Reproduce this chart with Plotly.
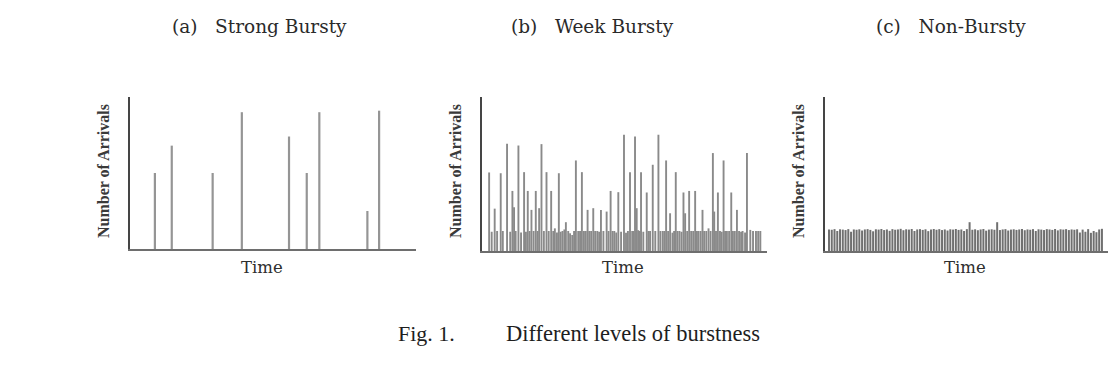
import plotly.graph_objects as go

W, H = 1111, 388

# ---- data ----
a_times = [8.7, 14.6, 28.9, 39.1, 55.6, 61.8, 66.2, 83.0, 87.1]
a_counts = [5.0, 6.8, 5.0, 9.0, 7.4, 5.0, 9.0, 2.5, 9.1]

b_times = [2.5, 3.4, 4.45, 5.3, 6.57, 7.3, 8.79, 9.9, 10.67, 11.25, 11.8, 12.78, 13.7, 14.77, 15.4,
           16.06, 16.7, 17.35, 18.1, 18.87, 19.5, 20.05, 20.87, 21.7, 22.63, 23.4, 24.27, 25.0, 25.56,
           26.3, 26.96, 27.6, 28.25, 28.9, 29.43, 30.25, 30.9, 31.65, 32.3, 32.94, 33.76, 34.4, 35.05,
           35.76, 36.4, 37.05, 37.63, 38.3, 39.04, 39.7, 40.45, 41.1, 41.74, 42.6, 43.73, 44.4, 45.13,
           45.8, 46.42, 47.1, 47.83, 48.8, 49.82, 50.53, 51.2, 51.93, 52.7, 53.1, 53.69, 54.28, 54.8,
           55.3, 55.8, 56.6, 57.8, 58.4, 58.97, 59.91, 60.8, 61.9, 62.6, 63.42, 64.0, 64.6, 65.3, 66.0,
           66.82, 67.4, 67.99, 68.6, 69.28, 70.0, 70.69, 71.28, 72.0, 72.68, 73.39, 74.1, 74.79, 75.4,
           75.97, 76.7, 77.37, 77.96, 78.7, 79.48, 80.2, 81.01, 81.48, 82.1, 82.77, 83.5, 84.1, 84.76,
           85.3, 85.93, 86.7, 87.46, 88.04, 88.7, 89.45, 90.2, 90.9, 91.44, 92.3, 92.97, 94.14, 95.1,
           96.13, 96.9, 97.66]
b_counts = [5.1, 1.25, 2.75, 1.3, 5.05, 1.3, 6.96, 1.25, 3.9, 2.84, 1.3, 6.85, 1.2, 5.12, 1.25,
            3.9, 1.3, 2.67, 1.3, 3.9, 1.3, 2.78, 6.94, 1.3, 5.12, 1.3, 3.9, 1.3, 1.47,
            1.2, 5.05, 1.25, 1.3, 1.4, 1.87, 1.3, 1.15, 1.04, 1.3, 5.88, 1.3, 1.3, 5.12,
            1.3, 1.3, 2.67, 1.3, 1.3, 2.78, 1.3, 1.3, 1.25, 2.67, 1.3, 2.56, 1.3, 3.9,
            1.3, 1.3, 1.2, 3.82, 1.25, 7.55, 1.19, 1.3, 5.12, 1.3, 1.3, 7.44, 2.78, 1.35,
            1.3, 5.12, 1.25, 3.8, 1.3, 1.3, 5.6, 1.3, 7.55, 1.3, 1.3, 1.3, 5.88, 1.3, 2.45,
            1.19, 1.3, 5.12, 1.3, 1.3, 1.25, 3.8, 2.45, 1.3, 3.9, 1.3, 1.3, 3.9, 1.3,
            1.3, 1.3, 2.67, 1.3, 1.3, 1.47, 1.3, 6.36, 2.56, 1.3, 3.8, 1.3, 1.25, 5.88,
            1.3, 1.3, 1.3, 3.8, 1.3, 1.3, 2.67, 1.3, 1.25, 1.3, 1.2, 6.36, 1.37, 1.3,
            1.3, 1.3, 1.3]

c_counts = [1.40, 1.38, 1.42, 1.30, 1.41, 1.39, 1.36, 1.42, 1.25, 1.40,
            1.38, 1.41, 1.33, 1.40, 1.42, 1.37, 1.28, 1.41, 1.39, 1.43,
            1.36, 1.40, 1.31, 1.42, 1.38, 1.40, 1.44, 1.35, 1.41, 1.39,
            1.43, 1.30, 1.40, 1.42, 1.37, 1.41, 1.29, 1.40, 1.43, 1.38,
            1.42, 1.36, 1.40, 1.33, 1.41, 1.39, 1.43, 1.37, 1.40, 1.30,
            1.42, 1.87, 1.38, 1.41, 1.35, 1.40, 1.43, 1.32, 1.39, 1.41,
            1.38, 1.87, 1.36, 1.40, 1.42, 1.33, 1.39, 1.41, 1.37, 1.40,
            1.43, 1.35, 1.40, 1.38, 1.42, 1.30, 1.41, 1.39, 1.36, 1.42,
            1.40, 1.37, 1.43, 1.34, 1.41, 1.39, 1.42, 1.36, 1.40, 1.38,
            1.41, 1.20, 1.39, 1.25, 1.42, 1.18, 1.30, 1.22, 1.40, 1.44]
c_times = list(range(len(c_counts)))

titles = ["(a)\u00a0\u00a0\u00a0Strong Bursty", "(b)\u00a0\u00a0\u00a0Week Bursty", "(c)\u00a0\u00a0\u00a0Non-Bursty"]
x_label = "Time"
y_label = "Number of Arrivals"
caption_num = "Fig. 1."
caption_text = "Different levels of burstness"


def px(x):
    return x / W


def py(y):
    return 1 - y / H


def spikes(times, counts):
    xs, ys = [], []
    for t, c in zip(times, counts):
        xs += [t, t, None]
        ys += [0, c, None]
    return xs, ys


fig = go.Figure()

panels = [
    dict(times=a_times, counts=a_counts, xd=(130, 416), yd=(249, 97), xr=(0, 100), color="#959595", w=2.2),
    dict(times=b_times, counts=b_counts, xd=(482, 767), yd=(251, 97), xr=(0, 100), color="#8a8a8a", w=1.9),
    dict(times=c_times, counts=c_counts, xd=(825, 1108), yd=(251, 97), xr=(-1.45, 101.2), color="#707070", w=2.0),
]

for i, p in enumerate(panels):
    sfx = "" if i == 0 else str(i + 1)
    xs, ys = spikes(p["times"], p["counts"])
    fig.add_trace(go.Scatter(x=xs, y=ys, mode="lines", line=dict(color=p["color"], width=p["w"]),
                             xaxis="x" + sfx, yaxis="y" + sfx, showlegend=False, hoverinfo="skip"))
    fig.layout["xaxis" + sfx] = dict(domain=[px(p["xd"][0]), px(p["xd"][1])], range=list(p["xr"]),
                                     anchor="y" + sfx, showline=True, linecolor="#6e6e6e", linewidth=2,
                                     showgrid=False, zeroline=False, showticklabels=False, ticks="",
                                     fixedrange=True)
    fig.layout["yaxis" + sfx] = dict(domain=[py(p["yd"][0]), py(p["yd"][1])], range=[0, 10],
                                     anchor="x" + sfx, showline=True, linecolor="#454545", linewidth=2,
                                     showgrid=False, zeroline=False, showticklabels=False, ticks="",
                                     fixedrange=True)

ann = []
title_x = [259, 592, 951]
time_x = [262, 623, 965]
ylab_x = [103, 455, 798]
for i in range(3):
    ann.append(dict(text=titles[i], x=px(title_x[i]), y=py(27), xref="paper", yref="paper",
                    showarrow=False, xanchor="center", yanchor="middle",
                    font=dict(family="DejaVu Serif", size=18.5, color="#2a2a2a")))
    ann.append(dict(text=x_label, x=px(time_x[i]), y=py(267), xref="paper", yref="paper",
                    showarrow=False, xanchor="center", yanchor="middle",
                    font=dict(family="DejaVu Serif", size=16.5, color="#2e2e2e")))
    ann.append(dict(text="<b>" + y_label + "</b>", x=px(ylab_x[i]), y=py(171), xref="paper", yref="paper",
                    showarrow=False, xanchor="center", yanchor="middle", textangle=-90,
                    font=dict(family="Liberation Serif", size=16, color="#3a3a3a")))

ann.append(dict(text=caption_num, x=px(396), y=py(333), xref="paper", yref="paper", showarrow=False,
                xanchor="left", yanchor="middle", font=dict(family="Liberation Serif", size=22, color="#1e1e1e")))
ann.append(dict(text=caption_text, x=px(504), y=py(333), xref="paper", yref="paper", showarrow=False,
                xanchor="left", yanchor="middle", font=dict(family="Liberation Serif", size=22.5, color="#1e1e1e")))

fig.update_layout(width=W, height=H, margin=dict(l=0, r=0, t=0, b=0),
                  paper_bgcolor="white", plot_bgcolor="white", annotations=ann, showlegend=False)

fig.write_html("out.html", config=dict(displayModeBar=False))
